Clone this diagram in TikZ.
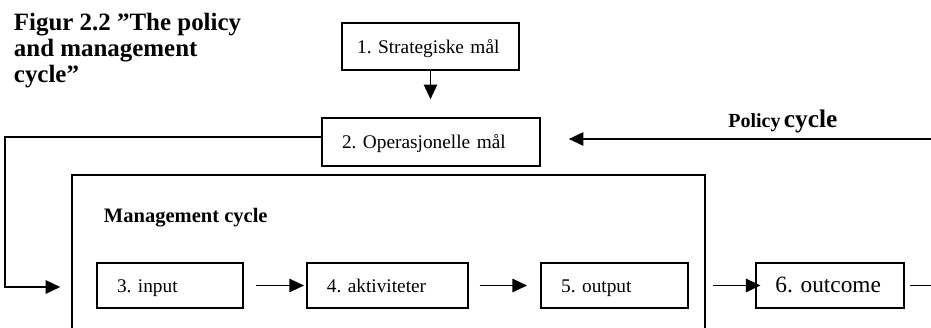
\documentclass[tikz,border=0pt]{standalone}
\usepackage{fontspec}
\setmainfont{Liberation Serif}
\usetikzlibrary{arrows.meta}
\frenchspacing

\tikzset{
  stage/.style={draw,line width=1.2pt,text width=#1,align=left,inner xsep=15pt,minimum height=34pt,text height=12pt,text depth=2pt,font=\fontsize{14.5}{16}\selectfont},
}

\begin{document}
\begin{tikzpicture}[line join=miter,line width=1.4pt,>={Triangle[length=11pt,width=10pt]},x=0.75pt,y=-0.75pt]
\useasboundingbox (0,0) rectangle (931,328);
\clip (0,0) rectangle (931,328);
\node[anchor=north west,inner sep=0pt,align=left,font=\bfseries\fontsize{18.7}{19.3}\selectfont] (title) at (13,12.5) {Figur 2.2 ”The policy\\and management\\cycle”};
% policy cycle
\node[stage=110pt,inner xsep=11.5pt,minimum height=35pt] (s1) at (430.5,46.5) {1. Strategiske mål};
\node[stage=133.5pt,minimum height=36pt] (s2) at (431,142) {2. Operasjonelle mål};
\coordinate (pin) at (935,139);
\node[anchor=base west,font=\bfseries] (plab) at (723,127) {{\fontsize{15}{18}\selectfont Policy} {\fontsize{19}{22}\selectfont cycle}};
\draw[->,shorten >=13.5pt] (s1.south) -- (s1.south |- s2.north);
\draw[->,shorten >=21pt] (pin) -- (s2.east |- pin);
% management cycle
\node[draw,line width=1.2pt,anchor=north west,minimum width=474.75pt,minimum height=127.5pt,inner sep=0pt] (mgmt) at (71,174) {};
\node[anchor=base west,inner sep=0pt,font=\bfseries\fontsize{15.4}{18}\selectfont] (mlab) at (103,222) {Management cycle};
\node[stage=79.5pt] (b3) at (170,285.5) {3. input};
\node[stage=91pt] (b4) at (387.5,285.5) {4. aktiviteter};
\node[stage=80pt] (b5) at (614.5,285.5) {5. output};
\node[stage=82pt,inner xsep=14.5pt,text height=13pt,font=\fontsize{17.5}{20}\selectfont] (b6) at (830,285.5) {6. outcome};
\coordinate (turn) at (5,287);
\coordinate (rim) at (935,285.5);
\draw[->,shorten >=8pt] ([yshift=3.75pt]s2.west) -| (turn) -- (mgmt.west |- turn);
\draw[->,shorten <=9pt,shorten >=1.5pt] (b3) -- (b4);
\draw[->,shorten <=8pt,shorten >=10pt] (b4) -- (b5);
\draw[->,shorten <=18pt,shorten >=-4pt] (b5) -- (b6);
\draw[shorten <=4pt] (b6) -- (rim);
\end{tikzpicture}
\end{document}
